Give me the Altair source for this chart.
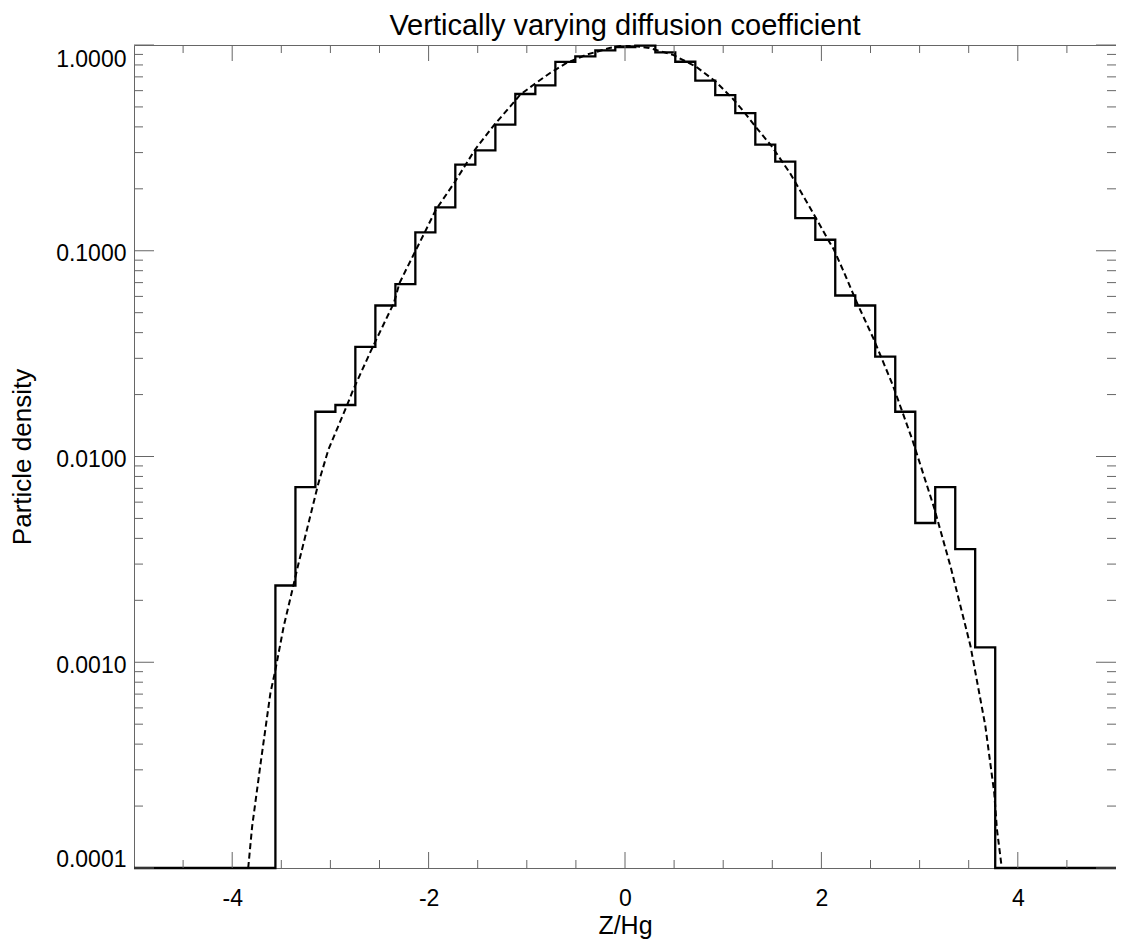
import altair as alt
import pandas as pd

TITLE = "Vertically varying diffusion coefficient"
X_TITLE = "Z/Hg"
Y_TITLE = "Particle density"

# histogram bin edges (Z/Hg) and particle density per bin
bin_edges = [-3.560, -3.356, -3.153, -2.949, -2.746, -2.542, -2.338, -2.135, -1.931,
             -1.728, -1.524, -1.320, -1.117, -0.913, -0.709, -0.506, -0.302, -0.099,
             0.105, 0.309, 0.512, 0.716, 0.919, 1.123, 1.327, 1.530, 1.734, 1.938,
             2.141, 2.345, 2.548, 2.752, 2.956, 3.159, 3.363, 3.566, 3.770]
bin_density = [0.00236, 0.00710, 0.0165, 0.0178, 0.0341, 0.0542, 0.0689, 0.1227, 0.1624,
               0.262, 0.3073, 0.410, 0.578, 0.636, 0.827, 0.880, 0.941, 0.978,
               0.992, 0.920, 0.829, 0.671, 0.571, 0.467, 0.3276, 0.2709, 0.144, 0.1131,
               0.0606, 0.0542, 0.0306, 0.0165, 0.00475, 0.00710, 0.00355, 0.00118]

# analytic profile (dashed)
curve_z = [-3.837, -3.797, -3.706, -3.611, -3.560, -3.476, -3.375, -3.332, -3.206, -3.122,
           -3.021, -2.836, -2.768, -2.583, -2.354, -2.296, -2.230, -2.128, -2.043, -1.926,
           -1.740, -1.623, -1.528, -1.330, -1.168, -1.067, -0.931, -0.763, -0.595, -0.392,
           -0.157, 0.0, 0.045, 0.248, 0.484, 0.720, 0.922, 1.091, 1.208, 1.327, 1.495, 1.680,
           1.916, 2.068, 2.128, 2.219, 2.355, 2.523, 2.725, 2.927, 3.147, 3.316, 3.518,
           3.669, 3.760, 3.787, 3.837]
curve_density = [0.0001, 0.000159, 0.000335, 0.000708, 0.000918, 0.00149, 0.00238, 0.00292,
                 0.00511, 0.00742, 0.01078, 0.0175, 0.0211, 0.0330, 0.0557, 0.0697, 0.0808,
                 0.1011, 0.1219, 0.1582, 0.2134, 0.2618, 0.3097, 0.410, 0.5029, 0.5733, 0.641,
                 0.731, 0.8176, 0.897, 0.967, 1.0, 0.9956, 0.967, 0.897, 0.787, 0.665, 0.5524,
                 0.4755, 0.4021, 0.3214, 0.2385, 0.1525, 0.1131, 0.1011, 0.0808, 0.0568, 0.0381,
                 0.02236, 0.01202, 0.00565, 0.00291, 0.00120, 0.000492, 0.000232, 0.000155, 0.0001]

x_range = [-5, 5]
y_range = [0.0001, 1.0]
x_major = [-4, -2, 0, 2, 4]
x_minor = [-4.5, -3.5, -3, -2.5, -1.5, -1, -0.5, 0.5, 1, 1.5, 2.5, 3, 3.5, 4.5]
y_major = [0.0001, 0.001, 0.01, 0.1, 1.0]
y_minor = [0.0002, 0.0003, 0.0004, 0.0005, 0.0006, 0.0007, 0.0008, 0.0009,
           0.002, 0.003, 0.004, 0.005, 0.006, 0.007, 0.008, 0.009,
           0.02, 0.03, 0.04, 0.05, 0.06, 0.07, 0.08, 0.09,
           0.2, 0.3, 0.4, 0.5, 0.6, 0.7, 0.8, 0.9]

W, H = 982, 823
FONT = "Liberation Sans"
TICK = "#666666"
LABEL_SIZE = 23
AXIS_TITLE_SIZE = 25

hx = [x_range[0]] + bin_edges + [x_range[1]]
hy = [y_range[0]] + bin_density + [y_range[0], y_range[0]]
hist_df = pd.DataFrame({"z": hx, "d": hy, "i": list(range(len(hx)))})
curve_df = pd.DataFrame({"z": curve_z, "d": curve_density, "i": list(range(len(curve_z)))})
title_df = pd.DataFrame({"title": [TITLE]})

xs = alt.Scale(domain=x_range, nice=False, zero=False)
ys = alt.Scale(type="log", domain=y_range, nice=False)

x_axis = alt.Axis(values=x_major, labelExpr="'' + datum.value", ticks=False, tickSize=0,
                  domain=False, grid=False, labelPadding=19, labelFontSize=LABEL_SIZE,
                  labelFont=FONT, labelColor="black", title=X_TITLE, titleFont=FONT,
                  titleFontSize=AXIS_TITLE_SIZE, titleFontWeight="normal", titleColor="black",
                  titleX=W / 2, titleY=65, titleBaseline="alphabetic")
y_axis = alt.Axis(values=y_major, format=".4f", ticks=False, tickSize=0, domain=False,
                  grid=False, labelPadding=8, labelOffset=3, labelFontSize=LABEL_SIZE,
                  labelFont=FONT, labelColor="black", labelFlush=True, title=Y_TITLE,
                  titleFont=FONT, titleFontSize=26, titleFontWeight="normal",
                  titleColor="black", titleX=-112, titleY=H / 2, titleBaseline="middle")

hist = alt.Chart(hist_df).mark_line(interpolate="step-after", color="black", strokeWidth=2.3).encode(
    x=alt.X("z:Q", scale=xs, axis=x_axis),
    y=alt.Y("d:Q", scale=ys, axis=y_axis),
    order="i:Q",
)
curve = alt.Chart(curve_df).mark_line(color="black", strokeWidth=2, strokeDash=[6, 3.5], clip=True).encode(
    x=alt.X("z:Q", scale=xs, axis=x_axis),
    y=alt.Y("d:Q", scale=ys, axis=y_axis),
    order="i:Q",
)
title = alt.Chart(title_df).mark_text(font=FONT, fontSize=29, color="black", align="center",
                                      baseline="alphabetic").encode(
    text="title:N", x=alt.value(W / 2), y=alt.value(-10.5))


def xticks(vals, length, top):
    df = pd.DataFrame({"z": vals})
    if top:
        y, y2 = alt.value(0), alt.value(length)
    else:
        y, y2 = alt.value(H), alt.value(H - length)
    return alt.Chart(df).mark_rule(color=TICK, strokeWidth=1).encode(
        x=alt.X("z:Q", scale=xs, axis=x_axis), y=y, y2=y2)


def yticks(vals, length, right):
    df = pd.DataFrame({"d": vals})
    if right:
        x, x2 = alt.value(W), alt.value(W - length)
    else:
        x, x2 = alt.value(0), alt.value(length)
    return alt.Chart(df).mark_rule(color=TICK, strokeWidth=1).encode(
        y=alt.Y("d:Q", scale=ys, axis=y_axis), x=x, x2=x2)


layers = [
    hist, curve,
    xticks(x_major, 16, False), xticks(x_major, 16, True),
    xticks(x_minor, 8, False), xticks(x_minor, 8, True),
    yticks(y_major, 20, False), yticks(y_major, 20, True),
    yticks(y_minor, 9, False), yticks(y_minor, 9, True),
    title,
]

chart = alt.layer(*layers).properties(
    width=W, height=H,
    background="white",
    autosize=alt.AutoSizeParams(type="none"),
    padding={"left": 126, "top": 37, "right": 0, "bottom": 71},
).configure_view(stroke=TICK, strokeWidth=1)

chart.save("out.html", embed_options={"renderer": "svg", "actions": False})
